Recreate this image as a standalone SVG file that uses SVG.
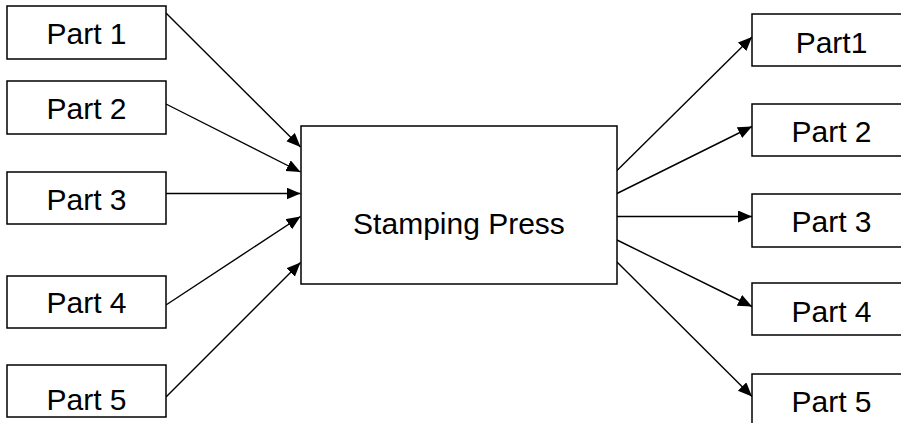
<svg xmlns="http://www.w3.org/2000/svg" width="901" height="423" viewBox="0 0 901 423">
<style>
.box{fill:#fff;stroke:#000;stroke-width:1.5}
.lbl{font-family:"Liberation Sans",Arial,sans-serif;font-size:30px;fill:#000;text-anchor:middle}
.edge{stroke:#000;stroke-width:1.4;fill:none;marker-end:url(#ah)}
</style>
<defs>
<marker id="ah" markerUnits="userSpaceOnUse" markerWidth="15" markerHeight="13" refX="14" refY="6" orient="auto">
<path d="M0,0 L14,6 L0,12 z" fill="#000"/>
</marker>
</defs>
<rect width="901" height="423" fill="#fff"/>
<g id="connectors">
<line class="edge" x1="166" y1="13" x2="300.5" y2="147"/>
<line class="edge" x1="166" y1="104" x2="300.5" y2="172"/>
<line class="edge" x1="166" y1="193.5" x2="300.5" y2="193.5"/>
<line class="edge" x1="166" y1="305" x2="300.5" y2="216.5"/>
<line class="edge" x1="166" y1="397" x2="300.5" y2="262.5"/>
<line class="edge" x1="617" y1="170.5" x2="752" y2="37"/>
<line class="edge" x1="617" y1="193.5" x2="752" y2="126.5"/>
<line class="edge" x1="617" y1="216.5" x2="752" y2="216.5"/>
<line class="edge" x1="617" y1="240" x2="752" y2="306.5"/>
<line class="edge" x1="617" y1="262" x2="752" y2="396.5"/>
</g>
<g id="in1"><rect class="box" x="7" y="6" width="159" height="53"/><text class="lbl" x="86.5" y="44.3">Part 1</text></g>
<g id="in2"><rect class="box" x="7" y="81" width="159" height="53"/><text class="lbl" x="86.5" y="119">Part 2</text></g>
<g id="in3"><rect class="box" x="7" y="172" width="159" height="52"/><text class="lbl" x="86.5" y="210">Part 3</text></g>
<g id="in4"><rect class="box" x="7" y="276" width="159" height="52"/><text class="lbl" x="86.5" y="313.3">Part 4</text></g>
<g id="in5"><rect class="box" x="7" y="365" width="159" height="52"/><text class="lbl" x="86.5" y="410">Part 5</text></g>
<g id="press"><rect class="box" x="301" y="126" width="316" height="158"/><text class="lbl" x="459" y="234">Stamping Press</text></g>
<g id="out1"><rect class="box" x="752" y="14" width="160" height="52"/><text class="lbl" x="831.5" y="53.3">Part1</text></g>
<g id="out2"><rect class="box" x="752" y="104" width="160" height="52"/><text class="lbl" x="831.5" y="141.7">Part 2</text></g>
<g id="out3"><rect class="box" x="752" y="194" width="160" height="53"/><text class="lbl" x="831.5" y="231.7">Part 3</text></g>
<g id="out4"><rect class="box" x="752" y="283" width="160" height="52"/><text class="lbl" x="831.5" y="321.7">Part 4</text></g>
<g id="out5"><rect class="box" x="752" y="374" width="160" height="52"/><text class="lbl" x="831.5" y="411.7">Part 5</text></g>
</svg>
